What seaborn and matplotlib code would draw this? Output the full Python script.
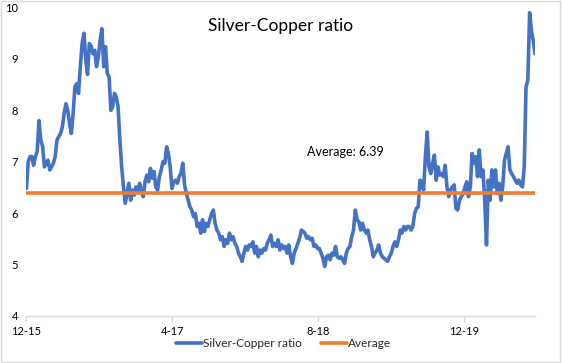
import numpy as np
import pandas as pd
import matplotlib
matplotlib.use("Agg")
import matplotlib.pyplot as plt
import seaborn as sns
from matplotlib.lines import Line2D
from matplotlib.patches import Rectangle

# ---- data ----
start_date = "2015-12-01"
step = "6D"
ratio_values = [
    6.48, 7.0, 7.1, 7.1, 6.93, 7.1, 7.2, 7.8, 7.42, 7.3,
    6.9, 6.97, 7.03, 6.84, 6.9, 6.97, 7.1, 7.42, 7.49, 7.55,
    7.68, 7.94, 8.13, 8.0, 7.74, 7.55, 7.94, 8.46, 8.52, 8.33,
    8.85, 9.3, 9.5, 9.0, 8.7, 9.3, 9.25, 9.1, 9.17, 8.85,
    9.04, 9.36, 9.59, 8.85, 9.24, 8.72, 8.65, 8.0, 8.07, 8.33,
    8.26, 8.07, 7.42, 6.9, 6.51, 6.19, 6.38, 6.58, 6.25, 6.45,
    6.35, 6.51, 6.42, 6.58, 6.42, 6.32, 6.61, 6.74, 6.61, 6.87,
    6.68, 6.81, 6.51, 6.45, 6.71, 6.84, 7.0, 6.97, 7.29, 7.16,
    6.9, 6.48, 6.61, 6.64, 6.58, 6.71, 6.77, 6.97, 6.55, 6.38,
    6.25, 6.12, 6.06, 5.93, 5.99, 5.74, 5.8, 5.61, 5.87, 5.64,
    5.8, 5.74, 5.87, 5.99, 6.06, 5.8, 5.67, 5.61, 5.48, 5.54,
    5.35, 5.48, 5.41, 5.61, 5.48, 5.54, 5.41, 5.35, 5.22, 5.15,
    5.06, 5.22, 5.35, 5.28, 5.38, 5.35, 5.44, 5.22, 5.35, 5.15,
    5.28, 5.22, 5.31, 5.28, 5.41, 5.48, 5.57, 5.35, 5.41, 5.35,
    5.48, 5.28, 5.38, 5.31, 5.35, 5.22, 5.38, 5.15, 5.02, 5.22,
    5.31, 5.41, 5.51, 5.67, 5.64, 5.61, 5.51, 5.54, 5.48, 5.51,
    5.35, 5.38, 5.31, 5.31, 5.22, 5.12, 4.96, 5.15, 5.18, 5.09,
    5.22, 5.18, 5.35, 5.15, 5.12, 5.15, 5.09, 5.02, 5.22, 5.31,
    5.35, 5.54, 5.67, 6.06, 5.87, 5.83, 5.67, 5.80, 5.67, 5.61,
    5.67, 5.48, 5.35, 5.15, 5.22, 5.28, 5.38, 5.22, 5.15, 5.12,
    5.09, 5.06, 5.15, 5.22, 5.35, 5.44, 5.35, 5.48, 5.67, 5.61,
    5.74, 5.67, 5.74, 5.74, 5.67, 5.74, 5.99, 6.09, 6.12, 6.64,
    6.61, 6.45, 7.1, 7.58, 6.9, 6.77, 6.97, 7.13, 6.64, 6.9,
    6.74, 6.77, 6.71, 6.93, 6.51, 6.32, 6.45, 6.51, 6.55, 6.09,
    6.06, 6.25, 6.32, 6.38, 6.51, 6.61, 6.32, 6.51, 7.16, 6.97,
    7.10, 6.71, 7.23, 6.71, 6.84, 6.25, 5.38, 6.64, 6.25, 6.84,
    6.51, 6.84, 6.38, 6.58, 6.25, 6.51, 7.03, 7.16, 7.29, 6.84,
    6.77, 6.71, 6.64, 6.58, 6.64, 6.55, 6.51, 6.9, 8.46, 8.59,
    9.9, 9.55, 9.36, 9.1,
]
average_value = 6.39
tick_dates = ["2015-12-01", "2017-04-01", "2018-08-01", "2019-12-01"]
tick_labels = ["12-15", "4-17", "8-18", "12-19"]
y_ticks = [4, 5, 6, 7, 8, 9, 10]
series_names = ["Silver-Copper ratio", "Average"]
title = "Silver-Copper ratio"
annotation = "Average: 6.39"

dates = pd.date_range(start=start_date, periods=len(ratio_values), freq=step)
df = pd.DataFrame({
    "date": np.concatenate([dates, dates]),
    "value": ratio_values + [average_value] * len(ratio_values),
    "series": [series_names[0]] * len(ratio_values) + [series_names[1]] * len(ratio_values),
})

sns.set_theme(style="white")
plt.rcParams["font.family"] = ["Lato", "DejaVu Sans"]

fig = plt.figure(figsize=(5.62, 3.63), dpi=100)
ax = fig.add_axes([0.047, 0.13, 0.905, 0.849])

sns.lineplot(data=df, x="date", y="value", hue="series",
             palette={series_names[0]: "#4472C4", series_names[1]: "#ED7D31"},
             linewidth=2.6, ax=ax, legend=False)

ax.set_xlim(dates[0], dates[-1])
ax.set_ylim(4, 10)
ax.set_yticks(y_ticks)
ax.set_yticklabels([str(v) for v in y_ticks], fontsize=8, color="#000000")
ax.set_xticks(pd.to_datetime(tick_dates))
ax.set_xticklabels(tick_labels, fontsize=8, color="#000000")
ax.set_xlabel("")
ax.set_ylabel("")

for s in ["top", "right", "left"]:
    ax.spines[s].set_visible(False)
ax.spines["bottom"].set_color("#d9d9d9")
ax.spines["bottom"].set_linewidth(1)
ax.tick_params(axis="x", which="both", bottom=True, length=4, width=1,
               color="#d9d9d9", pad=3)
ax.tick_params(axis="y", length=0, pad=6)
ax.grid(False)

ax.text(0.5, 0.965, title, transform=ax.transAxes, ha="center", va="top",
        fontsize=12.5, color="#000000")
ax.text(pd.Timestamp("2018-11-01"), 7.19, annotation, ha="center", va="center",
        fontsize=9, color="#000000")

handles = [Line2D([], [], color="#4472C4", lw=2.6),
           Line2D([], [], color="#ED7D31", lw=2.6)]
fig.legend(handles, series_names, loc="center", bbox_to_anchor=(0.505, 0.053),
           ncol=2, frameon=False, fontsize=8.5, handlelength=2.2,
           handletextpad=0.1, columnspacing=1.6)

fig.patches.append(Rectangle((0.002, 0.003), 0.995, 0.993, transform=fig.transFigure,
                             fill=False, edgecolor="#d9d9d9", linewidth=1))

fig.savefig("out.png", dpi=100)
